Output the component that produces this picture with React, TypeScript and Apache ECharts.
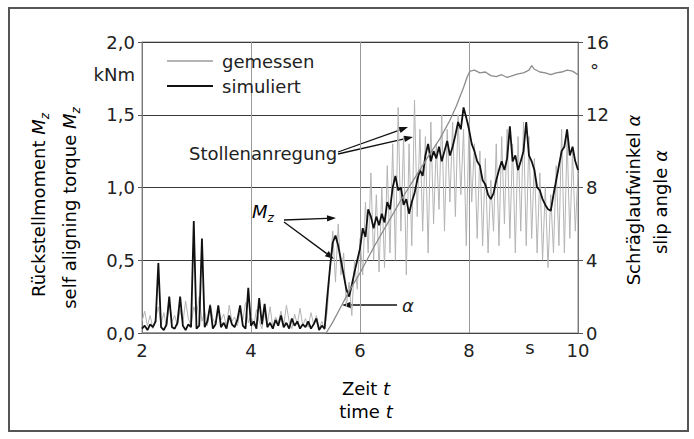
import React, { useEffect, useRef } from 'react';
import * as echarts from 'echarts';

// sample times (s) for the measured and simulated aligning torque
const TIME = [
  2.0, 2.05, 2.1, 2.15, 2.2, 2.25, 2.3, 2.35, 2.4, 2.45,
  2.5, 2.55, 2.6, 2.65, 2.7, 2.75, 2.8, 2.85, 2.9, 2.95,
  3.0, 3.05, 3.1, 3.15, 3.2, 3.25, 3.3, 3.35, 3.4, 3.45,
  3.5, 3.55, 3.6, 3.65, 3.7, 3.75, 3.8, 3.85, 3.9, 3.95,
  4.0, 4.05, 4.1, 4.15, 4.2, 4.25, 4.3, 4.35, 4.4, 4.45,
  4.5, 4.55, 4.6, 4.65, 4.7, 4.75, 4.8, 4.85, 4.9, 4.95,
  5.0, 5.05, 5.1, 5.15, 5.2, 5.25, 5.3, 5.35, 5.4, 5.45,
  5.5, 5.55, 5.6, 5.65, 5.7, 5.75, 5.8, 5.85, 5.9, 5.95,
  6.0, 6.05, 6.1, 6.15, 6.2, 6.25, 6.3, 6.35, 6.4, 6.45,
  6.5, 6.55, 6.6, 6.65, 6.7, 6.75, 6.8, 6.85, 6.9, 6.95,
  7.0, 7.05, 7.1, 7.15, 7.2, 7.25, 7.3, 7.35, 7.4, 7.45,
  7.5, 7.55, 7.6, 7.65, 7.7, 7.75, 7.8, 7.85, 7.9, 7.95,
  8.0, 8.05, 8.1, 8.15, 8.2, 8.25, 8.3, 8.35, 8.4, 8.45,
  8.5, 8.55, 8.6, 8.65, 8.7, 8.75, 8.8, 8.85, 8.9, 8.95,
  9.0, 9.05, 9.1, 9.15, 9.2, 9.25, 9.3, 9.35, 9.4, 9.45,
  9.5, 9.55, 9.6, 9.65, 9.7, 9.75, 9.8, 9.85, 9.9, 9.95,
  10.0,
];

// measured aligning torque (kNm)
const GEMESSEN = [
  0.08, 0.15, 0.05, 0.12, 0.03, 0.10, 0.18, 0.06, 0.14, 0.04,
  0.20, 0.08, 0.12, 0.05, 0.16, 0.07, 0.22, 0.10, 0.05, 0.18,
  0.12, 0.25, 0.08, 0.15, 0.05, 0.20, 0.10, 0.06, 0.17, 0.09,
  0.13, 0.04, 0.19, 0.08, 0.11, 0.05, 0.15, 0.09, 0.21, 0.07,
  0.12, 0.05, 0.16, 0.08, 0.03, 0.14, 0.06, 0.18, 0.04, 0.11,
  0.07, 0.15, 0.05, 0.19, 0.08, 0.03, 0.13, 0.06, 0.17, 0.05,
  0.10, 0.04, 0.14, 0.06, 0.12, 0.03, 0.08, 0.02, 0.15, 0.45,
  0.70, 0.35, 0.75, 0.40, 0.55, 0.18, 0.35, 0.12, 0.50, 0.30,
  0.65, 0.40, 0.90, 0.55, 1.10, 0.50, 0.95, 0.42, 1.00, 0.45,
  1.15, 0.55, 1.30, 0.50, 1.55, 0.70, 1.35, 0.40, 1.30, 0.60,
  1.60, 0.80, 1.40, 0.70, 1.35, 0.55, 1.45, 0.75, 1.30, 0.85,
  1.50, 0.70, 1.40, 0.90, 1.45, 0.80, 1.50, 0.95, 1.40, 0.60,
  1.45, 0.90, 1.30, 0.65, 1.25, 0.60, 1.20, 0.55, 1.05, 0.70,
  1.30, 0.60, 1.35, 0.75, 1.40, 0.65, 1.30, 0.55, 1.35, 0.70,
  1.45, 0.60, 1.35, 0.65, 1.20, 0.55, 1.10, 0.50, 1.00, 0.45,
  0.95, 0.55, 1.15, 0.60, 1.40, 0.55, 1.35, 0.65, 1.25, 0.70,
  1.10,
];

// simulated aligning torque (kNm)
const SIMULIERT = [
  0.03, 0.05, 0.02, 0.06, 0.04, 0.08, 0.48, 0.04, 0.02, 0.06,
  0.25, 0.04, 0.03, 0.07, 0.25, 0.05, 0.02, 0.06, 0.04, 0.77,
  0.03, 0.05, 0.65, 0.04, 0.08, 0.19, 0.03, 0.06, 0.19, 0.04,
  0.07, 0.03, 0.12, 0.06, 0.04, 0.09, 0.19, 0.05, 0.03, 0.31,
  0.05, 0.08, 0.03, 0.24, 0.06, 0.20, 0.04, 0.07, 0.03, 0.09,
  0.05, 0.12, 0.04, 0.07, 0.03, 0.10, 0.05, 0.08, 0.03, 0.06,
  0.04, 0.08, 0.03, 0.06, 0.10, 0.02, 0.05, 0.03, 0.25, 0.45,
  0.62, 0.67, 0.60, 0.50, 0.40, 0.30, 0.25, 0.33, 0.42, 0.50,
  0.58, 0.72, 0.66, 0.85, 0.80, 0.72, 0.80, 0.74, 0.82, 0.76,
  0.90, 0.85, 1.00, 1.08, 0.98, 1.00, 0.88, 0.92, 0.82, 0.90,
  0.96, 1.05, 1.12, 1.08, 1.22, 1.30, 1.18, 1.25, 1.20, 1.28,
  1.18, 1.25, 1.32, 1.22, 1.28, 1.36, 1.45, 1.40, 1.55, 1.48,
  1.40, 1.30, 1.25, 1.18, 1.15, 1.05, 1.02, 0.95, 0.92, 0.96,
  1.05, 1.12, 1.18, 1.12, 1.20, 1.42, 1.18, 1.22, 1.12, 1.18,
  1.25, 1.45, 1.22, 1.18, 1.12, 1.00, 0.98, 0.92, 0.88, 0.85,
  0.84, 0.95, 1.05, 1.15, 1.25, 1.28, 1.40, 1.22, 1.28, 1.18,
  1.12,
];

// slip angle (deg)
const ALPHA_TIME = [
  2.0, 5.38, 5.5, 5.66, 5.8, 6.0, 6.25, 6.5, 6.75, 7.0, 7.25, 7.47, 7.65, 7.77,
  7.9, 7.97, 8.02, 8.1, 8.2, 8.3, 8.4, 8.5, 8.6, 8.7, 8.8, 8.9, 9.0, 9.1, 9.15,
  9.2, 9.3, 9.4, 9.5, 9.6, 9.7, 9.8, 9.9, 10.0,
];
const ALPHA = [
  0, 0, 0.6, 1.5, 2.3, 3.3, 4.7, 6.0, 7.3, 8.5, 9.7, 10.7, 11.7, 12.5,
  13.5, 14.1, 14.4, 14.45, 14.3, 14.35, 14.15, 14.1, 14.2, 14.05, 14.15, 14.25, 14.3, 14.45, 14.7,
  14.5, 14.35, 14.3, 14.2, 14.3, 14.35, 14.45, 14.4, 14.2,
];

const SERIES_NAMES = ['gemessen', 'simuliert'];

const FONT = 'DejaVu Sans';
const TXT = '#222';
const FS = 18;

function arrow(x1: number, y1: number, x2: number, y2: number, head = 9, w = 3.2) {
  const dx = x2 - x1;
  const dy = y2 - y1;
  const L = Math.hypot(dx, dy);
  const ux = dx / L;
  const uy = dy / L;
  const bx = x2 - ux * head;
  const by = y2 - uy * head;
  return [
    { type: 'line', shape: { x1, y1, x2: bx, y2: by }, style: { stroke: '#111', lineWidth: 1.3 } },
    {
      type: 'polygon',
      shape: { points: [[x2, y2], [bx - uy * w, by + ux * w], [bx + uy * w, by - ux * w]] },
      style: { fill: '#111' },
    },
  ];
}

const rich = {
  n: { fontFamily: FONT, fontSize: FS, color: TXT, lineHeight: 26, verticalAlign: 'middle' as const },
  i: { fontFamily: FONT, fontSize: FS, color: TXT, fontStyle: 'italic' as const, lineHeight: 26, verticalAlign: 'middle' as const },
  s: { fontFamily: FONT, fontSize: 12, color: TXT, fontStyle: 'italic' as const, lineHeight: 12, verticalAlign: 'bottom' as const },
};

export default function App() {
  const ref = useRef<HTMLDivElement>(null);
  useEffect(() => {
    if (!ref.current) return;
    const chart = echarts.init(ref.current, null, { renderer: 'svg' });
    const pairs = (ts: number[], vs: number[]) => ts.map((t, k) => [t, vs[k]]);
    const dec = (v: number) => v.toFixed(1).replace('.', ',');
    chart.setOption({
      animation: false,
      backgroundColor: '#fff',
      textStyle: { fontFamily: FONT },
      grid: { left: 142, top: 42, width: 436, height: 291, show: true, borderColor: '#8a8a8a', borderWidth: 1 },
      legend: {
        data: SERIES_NAMES,
        orient: 'vertical',
        left: 166,
        top: 52,
        itemWidth: 46,
        itemHeight: 14,
        itemGap: 7,
        padding: 0,
        itemStyle: { opacity: 0 },
        textStyle: { fontFamily: FONT, fontSize: FS, color: TXT, padding: [0, 0, 0, 4] },
      },
      xAxis: {
        type: 'value',
        min: 2,
        max: 10,
        interval: 2,
        axisLine: { show: true, lineStyle: { color: '#444', width: 1.2 } },
        axisTick: { show: false },
        axisLabel: { fontFamily: FONT, fontSize: FS, color: TXT, margin: 8 },
        splitLine: { show: true, lineStyle: { color: '#9a9a9a', width: 1 } },
      },
      yAxis: [
        {
          type: 'value',
          min: 0,
          max: 2,
          interval: 0.5,
          position: 'left',
          axisLine: { show: true, lineStyle: { color: '#777' } },
          axisTick: { show: true, length: 4, lineStyle: { color: '#555' } },
          axisLabel: { fontFamily: FONT, fontSize: FS, color: TXT, margin: 7, formatter: dec },
          splitLine: { show: true, lineStyle: { color: '#3a3a3a', width: 1 } },
        },
        {
          type: 'value',
          min: 0,
          max: 16,
          interval: 4,
          position: 'right',
          axisLine: { show: true, lineStyle: { color: '#777' } },
          axisTick: { show: true, length: 5, lineStyle: { color: '#555' } },
          axisLabel: { fontFamily: FONT, fontSize: FS, color: TXT, margin: 8 },
          splitLine: { show: false },
        },
      ],
      series: [
        {
          name: 'gemessen',
          type: 'line',
          yAxisIndex: 0,
          data: pairs(TIME, GEMESSEN),
          showSymbol: false,
          symbol: 'none',
          lineStyle: { color: '#b4b4b4', width: 1 },
          itemStyle: { color: '#b4b4b4' },
          z: 2,
        },
        {
          name: 'simuliert',
          type: 'line',
          yAxisIndex: 0,
          data: pairs(TIME, SIMULIERT),
          showSymbol: false,
          symbol: 'none',
          lineStyle: { color: '#111', width: 1.8 },
          itemStyle: { color: '#111' },
          z: 3,
        },
        {
          name: 'alpha',
          type: 'line',
          yAxisIndex: 1,
          data: pairs(ALPHA_TIME, ALPHA),
          showSymbol: false,
          symbol: 'none',
          lineStyle: { color: '#8c8c8c', width: 1.3 },
          itemStyle: { color: '#8c8c8c' },
          z: 4,
        },
      ],
      graphic: [
        { type: 'rect', shape: { x: 9, y: 8, width: 679, height: 423 }, style: { fill: 'none', stroke: '#555', lineWidth: 2 }, silent: true },
        { type: 'text', x: 135, y: 74, style: { text: 'kNm', fontFamily: FONT, fontSize: FS, fill: TXT, align: 'right', verticalAlign: 'middle' } },
        { type: 'text', x: 590, y: 70, style: { text: '°', fontFamily: FONT, fontSize: FS, fill: TXT, align: 'left', verticalAlign: 'middle' } },
        { type: 'text', x: 530, y: 347, style: { text: 's', fontFamily: FONT, fontSize: FS, fill: TXT, align: 'center', verticalAlign: 'middle' } },
        { type: 'text', x: 366, y: 388, style: { text: '{n|Zeit }{i|t}', rich, align: 'center', verticalAlign: 'middle' } },
        { type: 'text', x: 366, y: 411, style: { text: '{n|time }{i|t}', rich, align: 'center', verticalAlign: 'middle' } },
        { type: 'text', x: 38, y: 205, rotation: Math.PI / 2, style: { text: '{n|Rückstellmoment }{i|M}{s|z}', rich, align: 'center', verticalAlign: 'middle' } },
        { type: 'text', x: 69, y: 208, rotation: Math.PI / 2, style: { text: '{n|self aligning torque }{i|M}{s|z}', rich, align: 'center', verticalAlign: 'middle' } },
        { type: 'text', x: 633, y: 200, rotation: Math.PI / 2, style: { text: '{n|Schräglaufwinkel }{i|α}', rich, align: 'center', verticalAlign: 'middle' } },
        { type: 'text', x: 660, y: 202, rotation: Math.PI / 2, style: { text: '{n|slip angle }{i|α}', rich, align: 'center', verticalAlign: 'middle' } },
        { type: 'text', x: 189, y: 153, style: { text: 'Stollenanregung', fontFamily: FONT, fontSize: FS, fill: TXT, align: 'left', verticalAlign: 'middle' } },
        ...arrow(338, 152, 408, 127),
        ...arrow(338, 154, 413, 137),
        { type: 'text', x: 252, y: 211, style: { text: '{i|M}{s|z}', rich, align: 'left', verticalAlign: 'middle' } },
        ...arrow(284, 220, 336, 218),
        ...arrow(284, 222, 334, 259),
        ...arrow(397, 305, 342, 305),
        { type: 'text', x: 402, y: 305, style: { text: 'α', fontFamily: FONT, fontSize: FS, fontStyle: 'italic', fill: TXT, align: 'left', verticalAlign: 'middle' } },
      ],
    });
    return () => chart.dispose();
  }, []);
  return <div ref={ref} style={{ position: 'fixed', left: 0, top: 0, width: 694, height: 439, background: '#fff' }} />;
}
